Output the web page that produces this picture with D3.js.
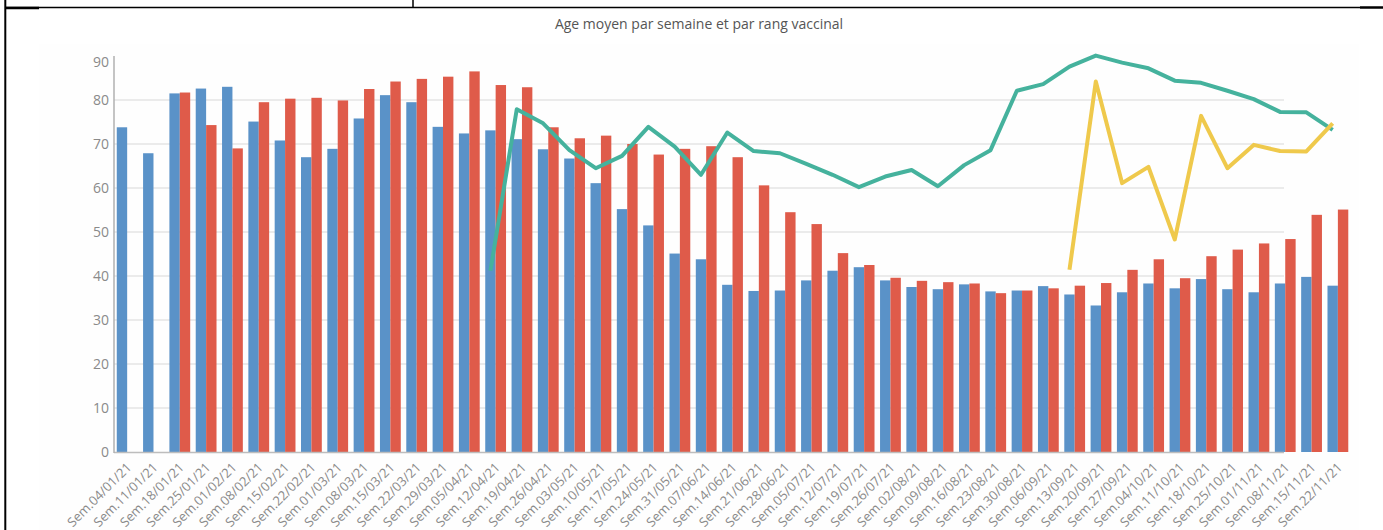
<!DOCTYPE html>
<html>
<head>
<meta charset="utf-8">
<script src="https://cdn.jsdelivr.net/npm/d3@7"></script>
<style>
  html, body { margin: 0; padding: 0; background: #ffffff; }
  svg { display: block; font-family: "Open Sans", "Noto Sans", sans-serif; }
</style>
</head>
<body>
<svg id="chart" width="1383" height="530"></svg>
<script>
const categories = [
  "Sem.04/01/21","Sem.11/01/21","Sem.18/01/21","Sem.25/01/21",
  "Sem.01/02/21","Sem.08/02/21","Sem.15/02/21","Sem.22/02/21",
  "Sem.01/03/21","Sem.08/03/21","Sem.15/03/21","Sem.22/03/21","Sem.29/03/21",
  "Sem.05/04/21","Sem.12/04/21","Sem.19/04/21","Sem.26/04/21",
  "Sem.03/05/21","Sem.10/05/21","Sem.17/05/21","Sem.24/05/21","Sem.31/05/21",
  "Sem.07/06/21","Sem.14/06/21","Sem.21/06/21","Sem.28/06/21",
  "Sem.05/07/21","Sem.12/07/21","Sem.19/07/21","Sem.26/07/21",
  "Sem.02/08/21","Sem.09/08/21","Sem.16/08/21","Sem.23/08/21","Sem.30/08/21",
  "Sem.06/09/21","Sem.13/09/21","Sem.20/09/21","Sem.27/09/21",
  "Sem.04/10/21","Sem.11/10/21","Sem.18/10/21","Sem.25/10/21",
  "Sem.01/11/21","Sem.08/11/21","Sem.15/11/21","Sem.22/11/21"
];

// Blue bars
const rang1 = [
  73.8, 67.9, 81.5, 82.6, 83.0, 75.1, 70.8, 67.0, 68.9, 75.8, 81.1, 79.5, 73.9,
  72.4, 73.1, 71.1, 68.8, 66.7, 61.1, 55.2, 51.5, 45.1, 43.8, 38.0, 36.6, 36.7,
  39.0, 41.2, 42.0, 39.0, 37.5, 37.0, 38.1, 36.5, 36.7, 37.7, 35.8, 33.3, 36.3,
  38.3, 37.2, 39.3, 37.0, 36.3, 38.3, 39.8, 37.8
];

// Red bars
const rang2 = [
  null, null, 81.7, 74.3, 69.0, 79.5, 80.3, 80.5, 79.9, 82.5, 84.2, 84.8, 85.3,
  86.5, 83.4, 82.9, 73.8, 71.3, 71.9, 70.0, 67.6, 68.9, 69.5, 67.0, 60.6, 54.5,
  51.8, 45.2, 42.5, 39.6, 38.9, 38.6, 38.3, 36.1, 36.7, 37.2, 37.8, 38.4, 41.4,
  43.8, 39.5, 44.5, 46.0, 47.4, 48.4, 53.9, 55.1
];

// Green line
const rang3 = [
  null, null, null, null, null, null, null, null, null, null, null, null, null,
  null, 41.2, 77.9, 74.7, 68.6, 64.5, 67.3, 73.9, 69.4, 63.0, 72.6, 68.4, 67.9,
  65.5, 63.0, 60.2, 62.6, 64.1, 60.4, 65.2, 68.6, 82.1, 83.6, 87.6, 90.1, 88.5,
  87.2, 84.4, 83.9, 82.1, 80.2, 77.3, 77.2, 73.2
];

// Yellow line
const rang4 = [
  null, null, null, null, null, null, null, null, null, null, null, null, null,
  null, null, null, null, null, null, null, null, null, null, null, null, null,
  null, null, null, null, null, null, null, null, null, null, 41.4, 84.2, 61.1,
  64.8, 48.3, 76.4, 64.5, 69.8, 68.4, 68.3, 74.7
];

const yTicks = [0, 10, 20, 30, 40, 50, 60, 70, 80, 90];
const title = "Age moyen par semaine et par rang vaccinal";

const colors = { r1: "#5a92c8", r2: "#df5b4a", r3: "#45b29d", r4: "#efc94c" };

const svg = d3.select("#chart");

// very faint panel background
svg.append("rect").attr("x", 39).attr("y", 44).attr("width", 1320).attr("height", 486)
  .attr("fill", "#fefefe");

const x = d3.scaleBand().domain(categories).range([114, 114 + 47 * 26.32])
  .paddingInner(0.21).paddingOuter(0.105);
const sub = d3.scaleBand().domain(["r1", "r2"]).range([0, x.bandwidth()]);
const y = d3.scaleLinear().domain([0, 90]).range([452, 56]);

const gridRight = 1284;

// gridlines
svg.append("g").selectAll("line").data(yTicks.filter(t => t > 0 && t < 90)).join("line")
  .attr("x1", 114).attr("x2", gridRight)
  .attr("y1", d => y(d)).attr("y2", d => y(d))
  .attr("stroke", "#e5e5e5").attr("stroke-width", 1.5);

// bars
const groups = svg.append("g").selectAll("g").data(categories).join("g")
  .attr("transform", d => `translate(${x(d)},0)`);

groups.append("rect")
  .filter((d) => rang1[categories.indexOf(d)] != null)
  .attr("x", sub("r1")).attr("width", sub.bandwidth())
  .attr("y", (d) => y(rang1[categories.indexOf(d)]))
  .attr("height", (d) => y(0) - y(rang1[categories.indexOf(d)]))
  .attr("fill", colors.r1);

groups.append("rect")
  .filter((d) => rang2[categories.indexOf(d)] != null)
  .attr("x", sub("r2")).attr("width", sub.bandwidth())
  .attr("y", (d) => y(rang2[categories.indexOf(d)]))
  .attr("height", (d) => y(0) - y(rang2[categories.indexOf(d)]))
  .attr("fill", colors.r2);

// axes lines
svg.append("line").attr("x1", 114).attr("x2", gridRight).attr("y1", y(0) + 0.5).attr("y2", y(0) + 0.5)
  .attr("stroke", "#bdbdbd").attr("stroke-width", 1.5);
svg.append("line").attr("x1", 114).attr("x2", 114).attr("y1", 56).attr("y2", y(0) + 1)
  .attr("stroke", "#b0b0b0").attr("stroke-width", 1.5);

// lines
const px = c => x(c) + sub("r1") + sub.bandwidth() / 2;
const line = d3.line()
  .defined(d => d.v != null)
  .x(d => px(d.c)).y(d => y(d.v));

svg.append("path")
  .datum(categories.map((c, i) => ({ c, v: rang3[i] })))
  .attr("d", line).attr("fill", "none")
  .attr("stroke", colors.r3).attr("stroke-width", 4).attr("stroke-linejoin", "round");

svg.append("path")
  .datum(categories.map((c, i) => ({ c, v: rang4[i] })))
  .attr("d", line).attr("fill", "none")
  .attr("stroke", colors.r4).attr("stroke-width", 4).attr("stroke-linejoin", "round");

// y tick labels
svg.append("g").selectAll("text").data(yTicks).join("text")
  .attr("x", 109)
  .attr("y", d => d === 90 ? y(d) + 6 : y(d))
  .attr("dy", "0.35em")
  .attr("text-anchor", "end")
  .attr("font-size", 14)
  .attr("fill", "#8a8a8a")
  .text(d => d);

// x tick labels
svg.append("g").selectAll("text").data(categories).join("text")
  .attr("transform", d => `translate(${px(d) + 7},${y(0) + 13}) rotate(-45)`)
  .attr("text-anchor", "end")
  .attr("dy", "0.35em")
  .attr("font-size", 13)
  .attr("fill", "#8a8a8a")
  .text(d => d);

// title
svg.append("text").attr("x", 699).attr("y", 24).attr("dy", "0.35em")
  .attr("text-anchor", "middle").attr("font-size", 14).attr("fill", "#555")
  .text(title);

// frame lines
svg.append("line").attr("x1", 5).attr("x2", 1360).attr("y1", 7.5).attr("y2", 7.5)
  .attr("stroke", "#000").attr("stroke-width", 1.4);
svg.append("line").attr("x1", 5).attr("x2", 39).attr("y1", 8).attr("y2", 8)
  .attr("stroke", "#000").attr("stroke-width", 2.5);
svg.append("line").attr("x1", 1360).attr("x2", 1383).attr("y1", 7.5).attr("y2", 7.5)
  .attr("stroke", "#000").attr("stroke-width", 2.5);
svg.append("line").attr("x1", 5.3).attr("x2", 5.3).attr("y1", 0).attr("y2", 530)
  .attr("stroke", "#000").attr("stroke-width", 2);
svg.append("line").attr("x1", 413).attr("x2", 413).attr("y1", 0).attr("y2", 7.5)
  .attr("stroke", "#000").attr("stroke-width", 1.5);
</script>
</body>
</html>
